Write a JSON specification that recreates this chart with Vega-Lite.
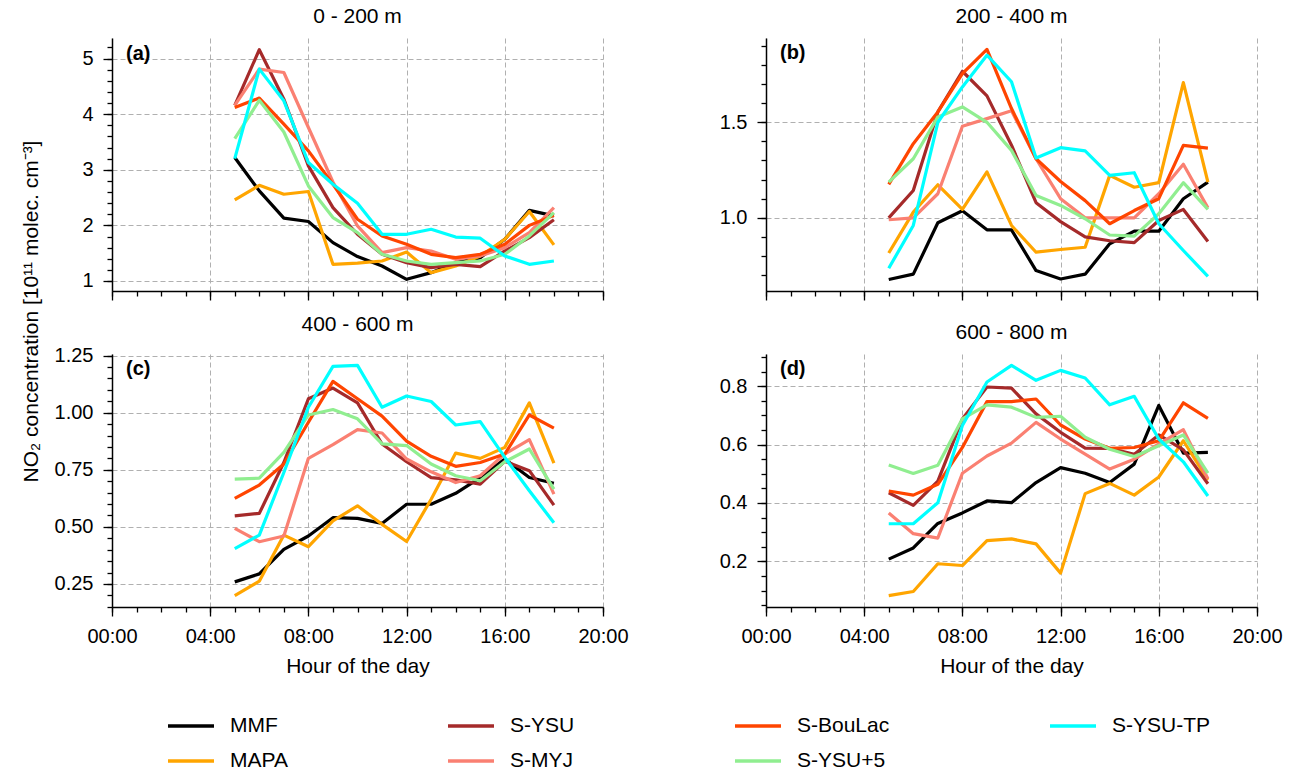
{
"$schema": "https://vega.github.io/schema/vega-lite/v6.json",
"padding": {"left": 19, "top": 6, "right": 5, "bottom": 5},
"bounds": "flush",
"columns": 2,
"spacing": {"row": 63, "column": 163},
"datasets": {
"series": [
{"p":"a","m":"MMF","h":5,"v":3.22},{"p":"a","m":"MMF","h":6,"v":2.62},{"p":"a","m":"MMF","h":7,"v":2.13},{"p":"a","m":"MMF","h":8,"v":2.07},{"p":"a","m":"MMF","h":9,"v":1.69},{"p":"a","m":"MMF","h":10,"v":1.44},{"p":"a","m":"MMF","h":11,"v":1.27},{"p":"a","m":"MMF","h":12,"v":1.03},{"p":"a","m":"MMF","h":13,"v":1.15},{"p":"a","m":"MMF","h":14,"v":1.33},{"p":"a","m":"MMF","h":15,"v":1.42},{"p":"a","m":"MMF","h":16,"v":1.75},{"p":"a","m":"MMF","h":17,"v":2.27},{"p":"a","m":"MMF","h":18,"v":2.17},
{"p":"a","m":"MAPA","h":5,"v":2.46},{"p":"a","m":"MAPA","h":6,"v":2.72},{"p":"a","m":"MAPA","h":7,"v":2.56},{"p":"a","m":"MAPA","h":8,"v":2.61},{"p":"a","m":"MAPA","h":9,"v":1.30},{"p":"a","m":"MAPA","h":10,"v":1.32},{"p":"a","m":"MAPA","h":11,"v":1.36},{"p":"a","m":"MAPA","h":12,"v":1.52},{"p":"a","m":"MAPA","h":13,"v":1.15},{"p":"a","m":"MAPA","h":14,"v":1.27},{"p":"a","m":"MAPA","h":15,"v":1.45},{"p":"a","m":"MAPA","h":16,"v":1.75},{"p":"a","m":"MAPA","h":17,"v":2.25},{"p":"a","m":"MAPA","h":18,"v":1.65},
{"p":"a","m":"S-YSU","h":5,"v":4.16},{"p":"a","m":"S-YSU","h":6,"v":5.16},{"p":"a","m":"S-YSU","h":7,"v":4.27},{"p":"a","m":"S-YSU","h":8,"v":3.07},{"p":"a","m":"S-YSU","h":9,"v":2.32},{"p":"a","m":"S-YSU","h":10,"v":1.84},{"p":"a","m":"S-YSU","h":11,"v":1.48},{"p":"a","m":"S-YSU","h":12,"v":1.33},{"p":"a","m":"S-YSU","h":13,"v":1.24},{"p":"a","m":"S-YSU","h":14,"v":1.30},{"p":"a","m":"S-YSU","h":15,"v":1.26},{"p":"a","m":"S-YSU","h":16,"v":1.54},{"p":"a","m":"S-YSU","h":17,"v":1.78},{"p":"a","m":"S-YSU","h":18,"v":2.10},
{"p":"a","m":"S-MYJ","h":5,"v":4.16},{"p":"a","m":"S-MYJ","h":6,"v":4.81},{"p":"a","m":"S-MYJ","h":7,"v":4.75},{"p":"a","m":"S-MYJ","h":8,"v":3.76},{"p":"a","m":"S-MYJ","h":9,"v":2.78},{"p":"a","m":"S-MYJ","h":10,"v":1.99},{"p":"a","m":"S-MYJ","h":11,"v":1.51},{"p":"a","m":"S-MYJ","h":12,"v":1.60},{"p":"a","m":"S-MYJ","h":13,"v":1.54},{"p":"a","m":"S-MYJ","h":14,"v":1.39},{"p":"a","m":"S-MYJ","h":15,"v":1.45},{"p":"a","m":"S-MYJ","h":16,"v":1.60},{"p":"a","m":"S-MYJ","h":17,"v":1.87},{"p":"a","m":"S-MYJ","h":18,"v":2.32},
{"p":"a","m":"S-BouLac","h":5,"v":4.12},{"p":"a","m":"S-BouLac","h":6,"v":4.29},{"p":"a","m":"S-BouLac","h":7,"v":3.82},{"p":"a","m":"S-BouLac","h":8,"v":3.34},{"p":"a","m":"S-BouLac","h":9,"v":2.74},{"p":"a","m":"S-BouLac","h":10,"v":2.11},{"p":"a","m":"S-BouLac","h":11,"v":1.81},{"p":"a","m":"S-BouLac","h":12,"v":1.66},{"p":"a","m":"S-BouLac","h":13,"v":1.48},{"p":"a","m":"S-BouLac","h":14,"v":1.42},{"p":"a","m":"S-BouLac","h":15,"v":1.48},{"p":"a","m":"S-BouLac","h":16,"v":1.66},{"p":"a","m":"S-BouLac","h":17,"v":2.00},{"p":"a","m":"S-BouLac","h":18,"v":2.18},
{"p":"a","m":"S-YSU+5","h":5,"v":3.56},{"p":"a","m":"S-YSU+5","h":6,"v":4.25},{"p":"a","m":"S-YSU+5","h":7,"v":3.68},{"p":"a","m":"S-YSU+5","h":8,"v":2.71},{"p":"a","m":"S-YSU+5","h":9,"v":2.14},{"p":"a","m":"S-YSU+5","h":10,"v":1.87},{"p":"a","m":"S-YSU+5","h":11,"v":1.48},{"p":"a","m":"S-YSU+5","h":12,"v":1.36},{"p":"a","m":"S-YSU+5","h":13,"v":1.30},{"p":"a","m":"S-YSU+5","h":14,"v":1.33},{"p":"a","m":"S-YSU+5","h":15,"v":1.36},{"p":"a","m":"S-YSU+5","h":16,"v":1.48},{"p":"a","m":"S-YSU+5","h":17,"v":1.81},{"p":"a","m":"S-YSU+5","h":18,"v":2.23},
{"p":"a","m":"S-YSU-TP","h":5,"v":3.20},{"p":"a","m":"S-YSU-TP","h":6,"v":4.81},{"p":"a","m":"S-YSU-TP","h":7,"v":4.24},{"p":"a","m":"S-YSU-TP","h":8,"v":3.13},{"p":"a","m":"S-YSU-TP","h":9,"v":2.74},{"p":"a","m":"S-YSU-TP","h":10,"v":2.40},{"p":"a","m":"S-YSU-TP","h":11,"v":1.84},{"p":"a","m":"S-YSU-TP","h":12,"v":1.84},{"p":"a","m":"S-YSU-TP","h":13,"v":1.93},{"p":"a","m":"S-YSU-TP","h":14,"v":1.79},{"p":"a","m":"S-YSU-TP","h":15,"v":1.77},{"p":"a","m":"S-YSU-TP","h":16,"v":1.45},{"p":"a","m":"S-YSU-TP","h":17,"v":1.30},{"p":"a","m":"S-YSU-TP","h":18,"v":1.36},

{"p":"b","m":"MMF","h":5,"v":0.677},{"p":"b","m":"MMF","h":6,"v":0.705},{"p":"b","m":"MMF","h":7,"v":0.974},{"p":"b","m":"MMF","h":8,"v":1.037},{"p":"b","m":"MMF","h":9,"v":0.937},{"p":"b","m":"MMF","h":10,"v":0.937},{"p":"b","m":"MMF","h":11,"v":0.724},{"p":"b","m":"MMF","h":12,"v":0.68},{"p":"b","m":"MMF","h":13,"v":0.705},{"p":"b","m":"MMF","h":14,"v":0.864},{"p":"b","m":"MMF","h":15,"v":0.93},{"p":"b","m":"MMF","h":16,"v":0.93},{"p":"b","m":"MMF","h":17,"v":1.10},{"p":"b","m":"MMF","h":18,"v":1.187},
{"p":"b","m":"MAPA","h":5,"v":0.816},{"p":"b","m":"MAPA","h":6,"v":1.03},{"p":"b","m":"MAPA","h":7,"v":1.173},{"p":"b","m":"MAPA","h":8,"v":1.044},{"p":"b","m":"MAPA","h":9,"v":1.24},{"p":"b","m":"MAPA","h":10,"v":0.96},{"p":"b","m":"MAPA","h":11,"v":0.82},{"p":"b","m":"MAPA","h":12,"v":0.834},{"p":"b","m":"MAPA","h":13,"v":0.846},{"p":"b","m":"MAPA","h":14,"v":1.222},{"p":"b","m":"MAPA","h":15,"v":1.16},{"p":"b","m":"MAPA","h":16,"v":1.184},{"p":"b","m":"MAPA","h":17,"v":1.708},{"p":"b","m":"MAPA","h":18,"v":1.187},
{"p":"b","m":"S-YSU","h":5,"v":1.0},{"p":"b","m":"S-YSU","h":6,"v":1.143},{"p":"b","m":"S-YSU","h":7,"v":1.554},{"p":"b","m":"S-YSU","h":8,"v":1.767},{"p":"b","m":"S-YSU","h":9,"v":1.638},{"p":"b","m":"S-YSU","h":10,"v":1.38},{"p":"b","m":"S-YSU","h":11,"v":1.079},{"p":"b","m":"S-YSU","h":12,"v":0.98},{"p":"b","m":"S-YSU","h":13,"v":0.90},{"p":"b","m":"S-YSU","h":14,"v":0.88},{"p":"b","m":"S-YSU","h":15,"v":0.87},{"p":"b","m":"S-YSU","h":16,"v":0.986},{"p":"b","m":"S-YSU","h":17,"v":1.044},{"p":"b","m":"S-YSU","h":18,"v":0.876},
{"p":"b","m":"S-MYJ","h":5,"v":0.99},{"p":"b","m":"S-MYJ","h":6,"v":1.0},{"p":"b","m":"S-MYJ","h":7,"v":1.126},{"p":"b","m":"S-MYJ","h":8,"v":1.479},{"p":"b","m":"S-MYJ","h":9,"v":1.519},{"p":"b","m":"S-MYJ","h":10,"v":1.56},{"p":"b","m":"S-MYJ","h":11,"v":1.309},{"p":"b","m":"S-MYJ","h":12,"v":1.10},{"p":"b","m":"S-MYJ","h":13,"v":1.0},{"p":"b","m":"S-MYJ","h":14,"v":1.0},{"p":"b","m":"S-MYJ","h":15,"v":1.0},{"p":"b","m":"S-MYJ","h":16,"v":1.126},{"p":"b","m":"S-MYJ","h":17,"v":1.28},{"p":"b","m":"S-MYJ","h":18,"v":1.052},
{"p":"b","m":"S-BouLac","h":5,"v":1.175},{"p":"b","m":"S-BouLac","h":6,"v":1.388},{"p":"b","m":"S-BouLac","h":7,"v":1.554},{"p":"b","m":"S-BouLac","h":8,"v":1.755},{"p":"b","m":"S-BouLac","h":9,"v":1.881},{"p":"b","m":"S-BouLac","h":10,"v":1.572},{"p":"b","m":"S-BouLac","h":11,"v":1.309},{"p":"b","m":"S-BouLac","h":12,"v":1.19},{"p":"b","m":"S-BouLac","h":13,"v":1.09},{"p":"b","m":"S-BouLac","h":14,"v":0.969},{"p":"b","m":"S-BouLac","h":15,"v":1.038},{"p":"b","m":"S-BouLac","h":16,"v":1.10},{"p":"b","m":"S-BouLac","h":17,"v":1.379},{"p":"b","m":"S-BouLac","h":18,"v":1.365},
{"p":"b","m":"S-YSU+5","h":5,"v":1.187},{"p":"b","m":"S-YSU+5","h":6,"v":1.309},{"p":"b","m":"S-YSU+5","h":7,"v":1.528},{"p":"b","m":"S-YSU+5","h":8,"v":1.58},{"p":"b","m":"S-YSU+5","h":9,"v":1.50},{"p":"b","m":"S-YSU+5","h":10,"v":1.353},{"p":"b","m":"S-YSU+5","h":11,"v":1.117},{"p":"b","m":"S-YSU+5","h":12,"v":1.065},{"p":"b","m":"S-YSU+5","h":13,"v":0.995},{"p":"b","m":"S-YSU+5","h":14,"v":0.91},{"p":"b","m":"S-YSU+5","h":15,"v":0.904},{"p":"b","m":"S-YSU+5","h":16,"v":1.021},{"p":"b","m":"S-YSU+5","h":17,"v":1.184},{"p":"b","m":"S-YSU+5","h":18,"v":1.044},
{"p":"b","m":"S-YSU-TP","h":5,"v":0.736},{"p":"b","m":"S-YSU-TP","h":6,"v":0.96},{"p":"b","m":"S-YSU-TP","h":7,"v":1.50},{"p":"b","m":"S-YSU-TP","h":8,"v":1.685},{"p":"b","m":"S-YSU-TP","h":9,"v":1.851},{"p":"b","m":"S-YSU-TP","h":10,"v":1.712},{"p":"b","m":"S-YSU-TP","h":11,"v":1.313},{"p":"b","m":"S-YSU-TP","h":12,"v":1.367},{"p":"b","m":"S-YSU-TP","h":13,"v":1.35},{"p":"b","m":"S-YSU-TP","h":14,"v":1.222},{"p":"b","m":"S-YSU-TP","h":15,"v":1.236},{"p":"b","m":"S-YSU-TP","h":16,"v":0.969},{"p":"b","m":"S-YSU-TP","h":17,"v":0.829},{"p":"b","m":"S-YSU-TP","h":18,"v":0.694},

{"p":"c","m":"MMF","h":5,"v":0.259},{"p":"c","m":"MMF","h":6,"v":0.294},{"p":"c","m":"MMF","h":7,"v":0.401},{"p":"c","m":"MMF","h":8,"v":0.46},{"p":"c","m":"MMF","h":9,"v":0.54},{"p":"c","m":"MMF","h":10,"v":0.537},{"p":"c","m":"MMF","h":11,"v":0.515},{"p":"c","m":"MMF","h":12,"v":0.599},{"p":"c","m":"MMF","h":13,"v":0.599},{"p":"c","m":"MMF","h":14,"v":0.647},{"p":"c","m":"MMF","h":15,"v":0.716},{"p":"c","m":"MMF","h":16,"v":0.797},{"p":"c","m":"MMF","h":17,"v":0.716},{"p":"c","m":"MMF","h":18,"v":0.691},
{"p":"c","m":"MAPA","h":5,"v":0.199},{"p":"c","m":"MAPA","h":6,"v":0.262},{"p":"c","m":"MAPA","h":7,"v":0.464},{"p":"c","m":"MAPA","h":8,"v":0.413},{"p":"c","m":"MAPA","h":9,"v":0.526},{"p":"c","m":"MAPA","h":10,"v":0.592},{"p":"c","m":"MAPA","h":11,"v":0.511},{"p":"c","m":"MAPA","h":12,"v":0.436},{"p":"c","m":"MAPA","h":13,"v":0.621},{"p":"c","m":"MAPA","h":14,"v":0.823},{"p":"c","m":"MAPA","h":15,"v":0.80},{"p":"c","m":"MAPA","h":16,"v":0.848},{"p":"c","m":"MAPA","h":17,"v":1.043},{"p":"c","m":"MAPA","h":18,"v":0.779},
{"p":"c","m":"S-YSU","h":5,"v":0.548},{"p":"c","m":"S-YSU","h":6,"v":0.559},{"p":"c","m":"S-YSU","h":7,"v":0.782},{"p":"c","m":"S-YSU","h":8,"v":1.061},{"p":"c","m":"S-YSU","h":9,"v":1.108},{"p":"c","m":"S-YSU","h":10,"v":1.043},{"p":"c","m":"S-YSU","h":11,"v":0.863},{"p":"c","m":"S-YSU","h":12,"v":0.785},{"p":"c","m":"S-YSU","h":13,"v":0.716},{"p":"c","m":"S-YSU","h":14,"v":0.706},{"p":"c","m":"S-YSU","h":15,"v":0.687},{"p":"c","m":"S-YSU","h":16,"v":0.787},{"p":"c","m":"S-YSU","h":17,"v":0.746},{"p":"c","m":"S-YSU","h":18,"v":0.595},
{"p":"c","m":"S-MYJ","h":5,"v":0.493},{"p":"c","m":"S-MYJ","h":6,"v":0.435},{"p":"c","m":"S-MYJ","h":7,"v":0.46},{"p":"c","m":"S-MYJ","h":8,"v":0.80},{"p":"c","m":"S-MYJ","h":9,"v":0.86},{"p":"c","m":"S-MYJ","h":10,"v":0.926},{"p":"c","m":"S-MYJ","h":11,"v":0.911},{"p":"c","m":"S-MYJ","h":12,"v":0.797},{"p":"c","m":"S-MYJ","h":13,"v":0.741},{"p":"c","m":"S-MYJ","h":14,"v":0.694},{"p":"c","m":"S-MYJ","h":15,"v":0.724},{"p":"c","m":"S-MYJ","h":16,"v":0.819},{"p":"c","m":"S-MYJ","h":17,"v":0.882},{"p":"c","m":"S-MYJ","h":18,"v":0.643},
{"p":"c","m":"S-BouLac","h":5,"v":0.625},{"p":"c","m":"S-BouLac","h":6,"v":0.683},{"p":"c","m":"S-BouLac","h":7,"v":0.775},{"p":"c","m":"S-BouLac","h":8,"v":0.958},{"p":"c","m":"S-BouLac","h":9,"v":1.137},{"p":"c","m":"S-BouLac","h":10,"v":1.061},{"p":"c","m":"S-BouLac","h":11,"v":0.985},{"p":"c","m":"S-BouLac","h":12,"v":0.875},{"p":"c","m":"S-BouLac","h":13,"v":0.809},{"p":"c","m":"S-BouLac","h":14,"v":0.765},{"p":"c","m":"S-BouLac","h":15,"v":0.782},{"p":"c","m":"S-BouLac","h":16,"v":0.819},{"p":"c","m":"S-BouLac","h":17,"v":0.99},{"p":"c","m":"S-BouLac","h":18,"v":0.932},
{"p":"c","m":"S-YSU+5","h":5,"v":0.709},{"p":"c","m":"S-YSU+5","h":6,"v":0.713},{"p":"c","m":"S-YSU+5","h":7,"v":0.826},{"p":"c","m":"S-YSU+5","h":8,"v":0.99},{"p":"c","m":"S-YSU+5","h":9,"v":1.014},{"p":"c","m":"S-YSU+5","h":10,"v":0.973},{"p":"c","m":"S-YSU+5","h":11,"v":0.863},{"p":"c","m":"S-YSU+5","h":12,"v":0.856},{"p":"c","m":"S-YSU+5","h":13,"v":0.775},{"p":"c","m":"S-YSU+5","h":14,"v":0.724},{"p":"c","m":"S-YSU+5","h":15,"v":0.702},{"p":"c","m":"S-YSU+5","h":16,"v":0.785},{"p":"c","m":"S-YSU+5","h":17,"v":0.841},{"p":"c","m":"S-YSU+5","h":18,"v":0.665},
{"p":"c","m":"S-YSU-TP","h":5,"v":0.405},{"p":"c","m":"S-YSU-TP","h":6,"v":0.464},{"p":"c","m":"S-YSU-TP","h":7,"v":0.738},{"p":"c","m":"S-YSU-TP","h":8,"v":1.024},{"p":"c","m":"S-YSU-TP","h":9,"v":1.203},{"p":"c","m":"S-YSU-TP","h":10,"v":1.207},{"p":"c","m":"S-YSU-TP","h":11,"v":1.024},{"p":"c","m":"S-YSU-TP","h":12,"v":1.073},{"p":"c","m":"S-YSU-TP","h":13,"v":1.049},{"p":"c","m":"S-YSU-TP","h":14,"v":0.946},{"p":"c","m":"S-YSU-TP","h":15,"v":0.961},{"p":"c","m":"S-YSU-TP","h":16,"v":0.804},{"p":"c","m":"S-YSU-TP","h":17,"v":0.658},{"p":"c","m":"S-YSU-TP","h":18,"v":0.518},

{"p":"d","m":"MMF","h":5,"v":0.208},{"p":"d","m":"MMF","h":6,"v":0.246},{"p":"d","m":"MMF","h":7,"v":0.33},{"p":"d","m":"MMF","h":8,"v":0.366},{"p":"d","m":"MMF","h":9,"v":0.407},{"p":"d","m":"MMF","h":10,"v":0.401},{"p":"d","m":"MMF","h":11,"v":0.47},{"p":"d","m":"MMF","h":12,"v":0.521},{"p":"d","m":"MMF","h":13,"v":0.502},{"p":"d","m":"MMF","h":14,"v":0.47},{"p":"d","m":"MMF","h":15,"v":0.533},{"p":"d","m":"MMF","h":16,"v":0.734},{"p":"d","m":"MMF","h":17,"v":0.571},{"p":"d","m":"MMF","h":18,"v":0.573},
{"p":"d","m":"MAPA","h":5,"v":0.083},{"p":"d","m":"MAPA","h":6,"v":0.097},{"p":"d","m":"MAPA","h":7,"v":0.192},{"p":"d","m":"MAPA","h":8,"v":0.186},{"p":"d","m":"MAPA","h":9,"v":0.271},{"p":"d","m":"MAPA","h":10,"v":0.277},{"p":"d","m":"MAPA","h":11,"v":0.26},{"p":"d","m":"MAPA","h":12,"v":0.16},{"p":"d","m":"MAPA","h":13,"v":0.432},{"p":"d","m":"MAPA","h":14,"v":0.467},{"p":"d","m":"MAPA","h":15,"v":0.427},{"p":"d","m":"MAPA","h":16,"v":0.489},{"p":"d","m":"MAPA","h":17,"v":0.613},{"p":"d","m":"MAPA","h":18,"v":0.479},
{"p":"d","m":"S-YSU","h":5,"v":0.435},{"p":"d","m":"S-YSU","h":6,"v":0.392},{"p":"d","m":"S-YSU","h":7,"v":0.475},{"p":"d","m":"S-YSU","h":8,"v":0.688},{"p":"d","m":"S-YSU","h":9,"v":0.797},{"p":"d","m":"S-YSU","h":10,"v":0.793},{"p":"d","m":"S-YSU","h":11,"v":0.705},{"p":"d","m":"S-YSU","h":12,"v":0.642},{"p":"d","m":"S-YSU","h":13,"v":0.588},{"p":"d","m":"S-YSU","h":14,"v":0.587},{"p":"d","m":"S-YSU","h":15,"v":0.567},{"p":"d","m":"S-YSU","h":16,"v":0.633},{"p":"d","m":"S-YSU","h":17,"v":0.582},{"p":"d","m":"S-YSU","h":18,"v":0.466},
{"p":"d","m":"S-MYJ","h":5,"v":0.366},{"p":"d","m":"S-MYJ","h":6,"v":0.295},{"p":"d","m":"S-MYJ","h":7,"v":0.28},{"p":"d","m":"S-MYJ","h":8,"v":0.502},{"p":"d","m":"S-MYJ","h":9,"v":0.561},{"p":"d","m":"S-MYJ","h":10,"v":0.605},{"p":"d","m":"S-MYJ","h":11,"v":0.676},{"p":"d","m":"S-MYJ","h":12,"v":0.619},{"p":"d","m":"S-MYJ","h":13,"v":0.567},{"p":"d","m":"S-MYJ","h":14,"v":0.516},{"p":"d","m":"S-MYJ","h":15,"v":0.55},{"p":"d","m":"S-MYJ","h":16,"v":0.602},{"p":"d","m":"S-MYJ","h":17,"v":0.651},{"p":"d","m":"S-MYJ","h":18,"v":0.483},
{"p":"d","m":"S-BouLac","h":5,"v":0.441},{"p":"d","m":"S-BouLac","h":6,"v":0.427},{"p":"d","m":"S-BouLac","h":7,"v":0.464},{"p":"d","m":"S-BouLac","h":8,"v":0.59},{"p":"d","m":"S-BouLac","h":9,"v":0.747},{"p":"d","m":"S-BouLac","h":10,"v":0.747},{"p":"d","m":"S-BouLac","h":11,"v":0.756},{"p":"d","m":"S-BouLac","h":12,"v":0.667},{"p":"d","m":"S-BouLac","h":13,"v":0.619},{"p":"d","m":"S-BouLac","h":14,"v":0.587},{"p":"d","m":"S-BouLac","h":15,"v":0.59},{"p":"d","m":"S-BouLac","h":16,"v":0.613},{"p":"d","m":"S-BouLac","h":17,"v":0.743},{"p":"d","m":"S-BouLac","h":18,"v":0.69},
{"p":"d","m":"S-YSU+5","h":5,"v":0.53},{"p":"d","m":"S-YSU+5","h":6,"v":0.501},{"p":"d","m":"S-YSU+5","h":7,"v":0.529},{"p":"d","m":"S-YSU+5","h":8,"v":0.688},{"p":"d","m":"S-YSU+5","h":9,"v":0.736},{"p":"d","m":"S-YSU+5","h":10,"v":0.728},{"p":"d","m":"S-YSU+5","h":11,"v":0.693},{"p":"d","m":"S-YSU+5","h":12,"v":0.697},{"p":"d","m":"S-YSU+5","h":13,"v":0.625},{"p":"d","m":"S-YSU+5","h":14,"v":0.584},{"p":"d","m":"S-YSU+5","h":15,"v":0.559},{"p":"d","m":"S-YSU+5","h":16,"v":0.596},{"p":"d","m":"S-YSU+5","h":17,"v":0.633},{"p":"d","m":"S-YSU+5","h":18,"v":0.502},
{"p":"d","m":"S-YSU-TP","h":5,"v":0.329},{"p":"d","m":"S-YSU-TP","h":6,"v":0.329},{"p":"d","m":"S-YSU-TP","h":7,"v":0.401},{"p":"d","m":"S-YSU-TP","h":8,"v":0.665},{"p":"d","m":"S-YSU-TP","h":9,"v":0.814},{"p":"d","m":"S-YSU-TP","h":10,"v":0.871},{"p":"d","m":"S-YSU-TP","h":11,"v":0.82},{"p":"d","m":"S-YSU-TP","h":12,"v":0.854},{"p":"d","m":"S-YSU-TP","h":13,"v":0.828},{"p":"d","m":"S-YSU-TP","h":14,"v":0.736},{"p":"d","m":"S-YSU-TP","h":15,"v":0.765},{"p":"d","m":"S-YSU-TP","h":16,"v":0.619},{"p":"d","m":"S-YSU-TP","h":17,"v":0.541},{"p":"d","m":"S-YSU-TP","h":18,"v":0.424}
],
"labels": [
{"p":"a","label":"(a)","h":0.57,"v":5.08},
{"p":"b","label":"(b)","h":0.57,"v":1.86},
{"p":"c","label":"(c)","h":0.57,"v":1.19},
{"p":"d","label":"(d)","h":0.57,"v":0.857}
]
},
"concat": [
{
"title": "0 - 200 m",
"width": 491, "height": 253,
"resolve": {"axis": {"x": "independent", "y": "independent"}},
"layer": [
{"data": {"name": "series"}, "transform": [{"filter": "datum.p === 'a'"}],
 "mark": {"type": "line", "strokeWidth": 3.2, "strokeJoin": "round"},
 "encoding": {
  "x": {"field": "h", "type": "quantitative", "scale": {"domain": [0, 20], "nice": false, "zero": false},
        "axis": {"orient": "bottom", "values": [0,4,8,12,16,20], "labels": false, "title": null, "grid": true, "tickSize": 9}},
  "y": {"field": "v", "type": "quantitative", "scale": {"domain": [0.82, 5.37], "nice": false, "zero": false},
        "axis": {"orient": "left", "values": [1,2,3,4,5], "format": "d", "grid": true, "tickSize": 9, "labelPadding": 10,
                 "title": "NO₂ concentration [10¹¹ molec. cm⁻³]", "titleX": -75, "titleY": 273, "titleBaseline": "alphabetic", "titleAngle": 270, "titleAlign": "center"}},
  "color": {"field": "m", "type": "nominal",
            "scale": {"domain": ["MMF","MAPA","S-YSU","S-MYJ","S-BouLac","S-YSU+5","S-YSU-TP"], "range": ["#000000","#ffa500","#a52a2a","#fa8072","#ff4500","#90ee90","#00ffff"]},
            "legend": {"title": null, "orient": "none", "legendX": 54, "legendY": 663, "columns": 4, "columnPadding": 153, "rowPadding": -19, "symbolType": "stroke", "symbolSize": 2116, "symbolStrokeWidth": 3.5, "labelFontSize": 21, "labelOffset": 14, "labelFont": "Liberation Sans", "labelColor": "black"}}
 }},
{"data": {"name": "labels"}, "transform": [{"filter": "datum.p === 'a'"}],
 "mark": {"type": "text", "align": "left", "baseline": "middle", "fontWeight": "bold", "fontSize": 20, "font": "Liberation Sans", "color": "black"},
 "encoding": {
  "x": {"field": "h", "type": "quantitative", "axis": {"orient": "bottom", "values": [0,1,2,3,4,5,6,7,8,9,10,11,12,13,14,15,16,17,18,19,20], "labels": false, "grid": false, "domain": false, "title": null, "tickSize": 5}},
  "y": {"field": "v", "type": "quantitative", "axis": {"orient": "left", "values": [1,1.2,1.4,1.6,1.8,2,2.2,2.4,2.6,2.8,3,3.2,3.4,3.6,3.8,4,4.2,4.4,4.6,4.8,5,5.2], "labels": false, "grid": false, "domain": false, "title": null, "tickSize": 5}},
  "text": {"field": "label"}
 }}
]
},
{
"title": "200 - 400 m",
"width": 491, "height": 253,
"resolve": {"axis": {"x": "independent", "y": "independent"}},
"layer": [
{"data": {"name": "series"}, "transform": [{"filter": "datum.p === 'b'"}],
 "mark": {"type": "line", "strokeWidth": 3.2, "strokeJoin": "round"},
 "encoding": {
  "x": {"field": "h", "type": "quantitative", "scale": {"domain": [0, 20], "nice": false, "zero": false},
        "axis": {"orient": "bottom", "values": [0,4,8,12,16,20], "labels": false, "title": null, "grid": true, "tickSize": 9}},
  "y": {"field": "v", "type": "quantitative", "scale": {"domain": [0.617, 1.941], "nice": false, "zero": false},
        "axis": {"orient": "left", "values": [1.0, 1.5], "format": ".1f", "grid": true, "tickSize": 9, "labelPadding": 10, "title": null}},
  "color": {"field": "m", "type": "nominal",
            "scale": {"domain": ["MMF","MAPA","S-YSU","S-MYJ","S-BouLac","S-YSU+5","S-YSU-TP"], "range": ["#000000","#ffa500","#a52a2a","#fa8072","#ff4500","#90ee90","#00ffff"]},
            "legend": {"title": null, "orient": "none", "legendX": 54, "legendY": 663, "columns": 4, "columnPadding": 153, "rowPadding": -19, "symbolType": "stroke", "symbolSize": 2116, "symbolStrokeWidth": 3.5, "labelFontSize": 21, "labelOffset": 14, "labelFont": "Liberation Sans", "labelColor": "black"}}
 }},
{"data": {"name": "labels"}, "transform": [{"filter": "datum.p === 'b'"}],
 "mark": {"type": "text", "align": "left", "baseline": "middle", "fontWeight": "bold", "fontSize": 20, "font": "Liberation Sans", "color": "black"},
 "encoding": {
  "x": {"field": "h", "type": "quantitative", "axis": {"orient": "bottom", "values": [0,1,2,3,4,5,6,7,8,9,10,11,12,13,14,15,16,17,18,19,20], "labels": false, "grid": false, "domain": false, "title": null, "tickSize": 5}},
  "y": {"field": "v", "type": "quantitative", "axis": {"orient": "left", "values": [0.7,0.8,0.9,1.0,1.1,1.2,1.3,1.4,1.5,1.6,1.7,1.8,1.9], "labels": false, "grid": false, "domain": false, "title": null, "tickSize": 5}},
  "text": {"field": "label"}
 }}
]
},
{
"title": "400 - 600 m",
"width": 491, "height": 253,
"resolve": {"axis": {"x": "independent", "y": "independent"}},
"layer": [
{"data": {"name": "series"}, "transform": [{"filter": "datum.p === 'c'"}],
 "mark": {"type": "line", "strokeWidth": 3.2, "strokeJoin": "round"},
 "encoding": {
  "x": {"field": "h", "type": "quantitative", "scale": {"domain": [0, 20], "nice": false, "zero": false},
        "axis": {"orient": "bottom", "values": [0,4,8,12,16,20], "labelExpr": "(datum.value < 10 ? '0' : '') + datum.value + ':00'", "title": "Hour of the day", "grid": true, "tickSize": 9, "labelPadding": 10, "titlePadding": 9}},
  "y": {"field": "v", "type": "quantitative", "scale": {"domain": [0.149, 1.257], "nice": false, "zero": false},
        "axis": {"orient": "left", "values": [0.25, 0.5, 0.75, 1.0, 1.25], "format": ".2f", "grid": true, "tickSize": 9, "labelPadding": 10, "title": null}},
  "color": {"field": "m", "type": "nominal",
            "scale": {"domain": ["MMF","MAPA","S-YSU","S-MYJ","S-BouLac","S-YSU+5","S-YSU-TP"], "range": ["#000000","#ffa500","#a52a2a","#fa8072","#ff4500","#90ee90","#00ffff"]},
            "legend": {"title": null, "orient": "none", "legendX": 54, "legendY": 663, "columns": 4, "columnPadding": 153, "rowPadding": -19, "symbolType": "stroke", "symbolSize": 2116, "symbolStrokeWidth": 3.5, "labelFontSize": 21, "labelOffset": 14, "labelFont": "Liberation Sans", "labelColor": "black"}}
 }},
{"data": {"name": "labels"}, "transform": [{"filter": "datum.p === 'c'"}],
 "mark": {"type": "text", "align": "left", "baseline": "middle", "fontWeight": "bold", "fontSize": 20, "font": "Liberation Sans", "color": "black"},
 "encoding": {
  "x": {"field": "h", "type": "quantitative", "axis": {"orient": "bottom", "values": [0,1,2,3,4,5,6,7,8,9,10,11,12,13,14,15,16,17,18,19,20], "labels": false, "grid": false, "domain": false, "title": null, "tickSize": 5}},
  "y": {"field": "v", "type": "quantitative", "axis": {"orient": "left", "values": [0.15,0.2,0.25,0.3,0.35,0.4,0.45,0.5,0.55,0.6,0.65,0.7,0.75,0.8,0.85,0.9,0.95,1.0,1.05,1.1,1.15,1.2,1.25], "labels": false, "grid": false, "domain": false, "title": null, "tickSize": 5}},
  "text": {"field": "label"}
 }}
]
},
{
"title": "600 - 800 m",
"width": 491, "height": 253,
"resolve": {"axis": {"x": "independent", "y": "independent"}},
"layer": [
{"data": {"name": "series"}, "transform": [{"filter": "datum.p === 'd'"}],
 "mark": {"type": "line", "strokeWidth": 3.2, "strokeJoin": "round"},
 "encoding": {
  "x": {"field": "h", "type": "quantitative", "scale": {"domain": [0, 20], "nice": false, "zero": false},
        "axis": {"orient": "bottom", "values": [0,4,8,12,16,20], "labelExpr": "(datum.value < 10 ? '0' : '') + datum.value + ':00'", "title": "Hour of the day", "grid": true, "tickSize": 9, "labelPadding": 10, "titlePadding": 9}},
  "y": {"field": "v", "type": "quantitative", "scale": {"domain": [0.044, 0.91], "nice": false, "zero": false},
        "axis": {"orient": "left", "values": [0.2, 0.4, 0.6, 0.8], "format": ".1f", "grid": true, "tickSize": 9, "labelPadding": 10, "title": null}},
  "color": {"field": "m", "type": "nominal",
            "scale": {"domain": ["MMF","MAPA","S-YSU","S-MYJ","S-BouLac","S-YSU+5","S-YSU-TP"], "range": ["#000000","#ffa500","#a52a2a","#fa8072","#ff4500","#90ee90","#00ffff"]},
            "legend": {"title": null, "orient": "none", "legendX": 54, "legendY": 663, "columns": 4, "columnPadding": 153, "rowPadding": -19, "symbolType": "stroke", "symbolSize": 2116, "symbolStrokeWidth": 3.5, "labelFontSize": 21, "labelOffset": 14, "labelFont": "Liberation Sans", "labelColor": "black"}}
 }},
{"data": {"name": "labels"}, "transform": [{"filter": "datum.p === 'd'"}],
 "mark": {"type": "text", "align": "left", "baseline": "middle", "fontWeight": "bold", "fontSize": 20, "font": "Liberation Sans", "color": "black"},
 "encoding": {
  "x": {"field": "h", "type": "quantitative", "axis": {"orient": "bottom", "values": [0,1,2,3,4,5,6,7,8,9,10,11,12,13,14,15,16,17,18,19,20], "labels": false, "grid": false, "domain": false, "title": null, "tickSize": 5}},
  "y": {"field": "v", "type": "quantitative", "axis": {"orient": "left", "values": [0.05,0.1,0.15,0.2,0.25,0.3,0.35,0.4,0.45,0.5,0.55,0.6,0.65,0.7,0.75,0.8,0.85,0.9], "labels": false, "grid": false, "domain": false, "title": null, "tickSize": 5}},
  "text": {"field": "label"}
 }}
]
}
],
"config": {
 "font": "Liberation Sans",
 "view": {"stroke": null},
 "axis": {"labelFontSize": 20, "labelColor": "black", "labelFont": "Liberation Sans", "titleFont": "Liberation Sans", "titleFontSize": 21, "titleFontWeight": "normal", "titleColor": "black",
          "domainColor": "black", "domainWidth": 1.5, "tickColor": "black", "tickWidth": 1.3,
          "gridColor": "#b0b0b0", "gridDash": [5, 3], "gridWidth": 1, "labelPadding": 8, "labelFlush": false, "labelOverlap": false, "labelBound": false},
 "title": {"fontSize": 21, "fontWeight": "normal", "font": "Liberation Sans", "color": "black", "offset": 11, "anchor": "middle", "frame": "group"}
}
}
